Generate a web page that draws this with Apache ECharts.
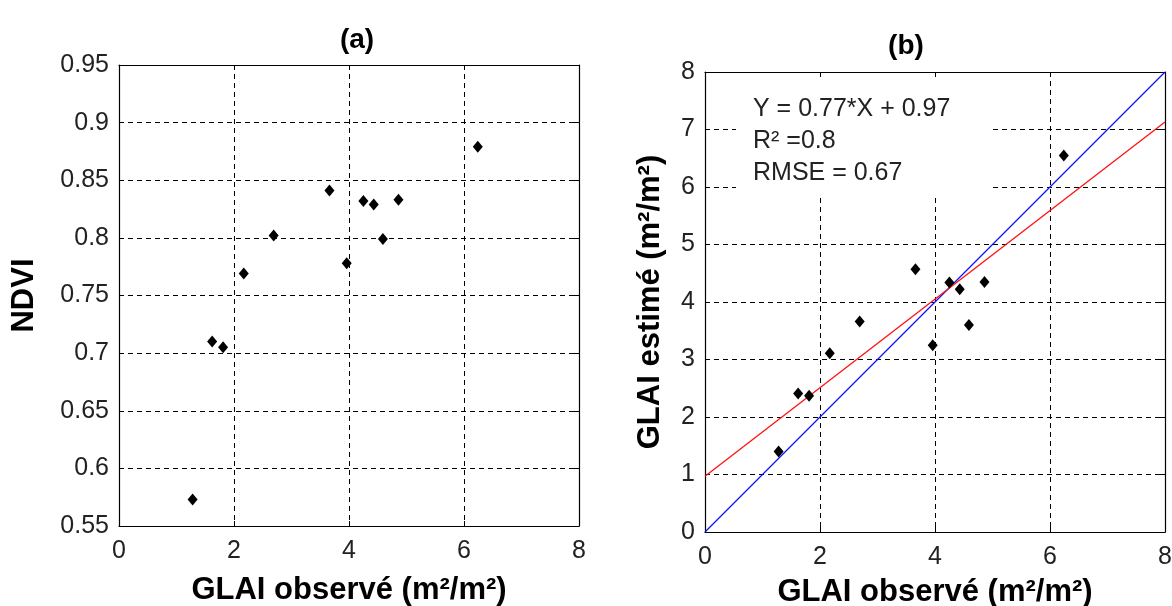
<!DOCTYPE html>
<html>
<head>
<meta charset="utf-8">
<script src="https://cdn.jsdelivr.net/npm/echarts@6/dist/echarts.min.js"></script>
<style>
html,body{margin:0;padding:0;background:#fff;}
#chart{width:1172px;height:606px;}
</style>
</head>
<body>
<div id="chart"></div>
<script>
// ---- data ----
const glaiObserved = [1.28, 1.62, 1.81, 2.17, 2.69, 3.66, 3.96, 4.25, 4.43, 4.59, 4.86, 6.24];
const ndvi         = [0.573, 0.710, 0.705, 0.769, 0.802, 0.841, 0.778, 0.832, 0.829, 0.799, 0.833, 0.879];
const glaiEstimated= [1.40, 2.41, 2.37, 3.11, 3.66, 4.57, 3.25, 4.34, 4.22, 3.60, 4.35, 6.55];
const fitLineX = [0, 8];
const fitLineY = [0.97, 7.13];
const oneToOneX = [0, 8];
const oneToOneY = [0, 8];
const titles = ['(a)', '(b)'];
const xName = 'GLAI observé (m²/m²)';
const yNameA = 'NDVI';
const yNameB = 'GLAI estimé (m²/m²)';
const statsLines = ['Y = 0.77*X + 0.97', 'R² =0.8', 'RMSE = 0.67'];

const FONT = '"Liberation Sans", Arial, sans-serif';
const zip = (a, b) => a.map((v, i) => [v, b[i]]);

const splitLine = {show: true, lineStyle: {color: '#000', width: 1, type: [5, 4]}};
const axisLine = {show: true, onZero: false, lineStyle: {color: '#000', width: 1.2}};
const tickIn = {show: true, inside: true, length: 5, lineStyle: {color: '#000', width: 1}};
const labelStyle = {color: '#222', fontFamily: FONT, fontSize: 25};
const nameStyle = {color: '#000', fontFamily: FONT, fontSize: 31, fontWeight: 'bold'};

function fmt(v){ return String(+v.toFixed(2)); }

const grids = [
  {left: 119, top: 65, width: 460, height: 461, show: false, containLabel: false, outerBoundsMode: 'none'},
  {left: 705, top: 72, width: 460, height: 460, show: false, containLabel: false, outerBoundsMode: 'none'}
];

const xAxes = [];
const yAxes = [];
// grid 0 axes
xAxes.push({type: 'value', gridIndex: 0, min: 0, max: 8, interval: 2, position: 'bottom',
  axisLine, axisTick: tickIn, splitLine, axisLabel: {...labelStyle, margin: 13},
  name: xName, nameLocation: 'middle', nameGap: 49, nameTextStyle: nameStyle});
xAxes.push({type: 'value', gridIndex: 0, min: 0, max: 8, interval: 2, position: 'top',
  axisLine, axisTick: tickIn, splitLine: {show: false}, axisLabel: {show: false}});
yAxes.push({type: 'value', gridIndex: 0, min: 0.55, max: 0.95, interval: 0.05, position: 'left',
  axisLine, axisTick: tickIn, splitLine, axisLabel: {...labelStyle, margin: 10, formatter: fmt},
  name: yNameA, nameLocation: 'middle', nameGap: 79, nameTextStyle: nameStyle});
yAxes.push({type: 'value', gridIndex: 0, min: 0.55, max: 0.95, interval: 0.05, position: 'right',
  axisLine, axisTick: tickIn, splitLine: {show: false}, axisLabel: {show: false}});
// grid 1 axes
xAxes.push({type: 'value', gridIndex: 1, min: 0, max: 8, interval: 2, position: 'bottom',
  axisLine, axisTick: tickIn, splitLine, axisLabel: {...labelStyle, margin: 13},
  name: xName, nameLocation: 'middle', nameGap: 45, nameTextStyle: nameStyle});
xAxes.push({type: 'value', gridIndex: 1, min: 0, max: 8, interval: 2, position: 'top',
  axisLine, axisTick: tickIn, splitLine: {show: false}, axisLabel: {show: false}});
yAxes.push({type: 'value', gridIndex: 1, min: 0, max: 8, interval: 1, position: 'left',
  axisLine, axisTick: tickIn, splitLine, axisLabel: {...labelStyle, margin: 10},
  name: yNameB, nameLocation: 'middle', nameGap: 39, nameTextStyle: nameStyle});
yAxes.push({type: 'value', gridIndex: 1, min: 0, max: 8, interval: 1, position: 'right',
  axisLine, axisTick: tickIn, splitLine: {show: false}, axisLabel: {show: false}});

const pointStyle = {type: 'scatter', symbol: 'diamond', symbolSize: [10, 12],
  itemStyle: {color: '#000', opacity: 1}, z: 5};

const option = {
  backgroundColor: '#fff',
  animation: false,
  grid: grids,
  xAxis: xAxes,
  yAxis: yAxes,
  series: [
    {...pointStyle, xAxisIndex: 0, yAxisIndex: 0, data: zip(glaiObserved, ndvi)},
    {type: 'line', xAxisIndex: 2, yAxisIndex: 2, data: zip(oneToOneX, oneToOneY), showSymbol: false,
      lineStyle: {color: '#1010ff', width: 1.3}, z: 3},
    {type: 'line', xAxisIndex: 2, yAxisIndex: 2, data: zip(fitLineX, fitLineY), showSymbol: false,
      lineStyle: {color: '#ff1010', width: 1.3}, z: 3},
    {...pointStyle, xAxisIndex: 2, yAxisIndex: 2, data: zip(glaiObserved, glaiEstimated)}
  ],
  graphic: [
    {type: 'rect', shape: {x: 736, y: 79, width: 257, height: 116}, style: {fill: '#fff'}, z: 50, silent: true},
    {type: 'text', x: 753, y: 93, z: 51, style: {text: statsLines.join('\n'), fill: '#222',
      font: '25px ' + FONT, lineHeight: 32}},
    {type: 'text', x: 357, y: 40, z: 51, style: {text: titles[0], fill: '#000',
      font: 'bold 28px ' + FONT, align: 'center', verticalAlign: 'middle'}},
    {type: 'text', x: 906, y: 46, z: 51, style: {text: titles[1], fill: '#000',
      font: 'bold 28px ' + FONT, align: 'center', verticalAlign: 'middle'}}
  ]
};

const chart = echarts.init(document.getElementById('chart'), null, {renderer: 'canvas'});
chart.setOption(option);
</script>
</body>
</html>
